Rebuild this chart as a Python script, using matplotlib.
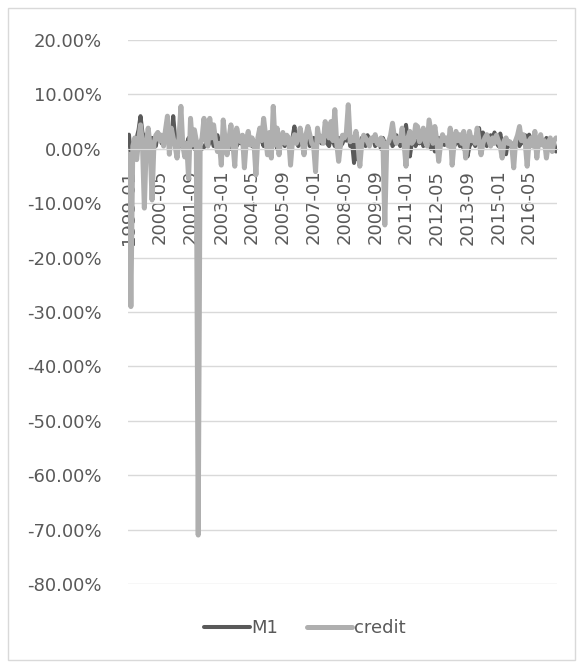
import numpy as np, pandas as pd, matplotlib; matplotlib.use("Agg"); import matplotlib.pyplot as plt
from matplotlib.ticker import FuncFormatter
from matplotlib.patches import Rectangle

# monthly growth, %, 1999-01 .. 2017-07
m1 = [2.6,-1.4,1.0,0.5,2.0,3.5,6.0,3.0,2.0,1.5,2.5,1.0,
      2.0,1.5,0.5,3.0,2.5,1.0,2.0,3.0,1.5,2.0,1.0,6.0,
      2.0,1.0,0.5,1.5,0.0,1.0,0.8,2.0,0.5,1.0,0.0,1.5,
      1.0,0.5,0.0,0.3,1.0,0.5,1.2,2.0,0.5,1.5,2.5,1.0,
      1.5,0.5,2.0,1.0,1.5,0.0,1.0,2.0,0.5,1.5,1.0,2.5,
      0.5,1.5,1.0,2.0,0.5,1.5,0.5,1.0,2.0,1.5,0.5,3.0,
      1.5,0.5,2.0,1.0,3.0,0.0,1.5,2.0,1.0,0.5,2.5,1.0,
      0.5,2.0,4.1,1.5,0.5,1.0,2.5,0.5,1.5,2.0,0.5,1.5,
      2.0,0.5,1.5,2.5,1.0,2.0,4.4,1.0,0.5,2.0,1.5,0.5,
      1.5,2.0,0.5,1.0,2.0,1.5,3.0,0.5,1.0,-2.6,1.0,-2.0,
      0.5,2.0,1.5,0.5,2.5,1.0,1.5,2.0,0.5,1.0,1.5,0.0,
      2.0,1.0,0.5,1.5,2.0,0.5,1.0,2.5,1.5,0.5,1.0,2.0,
      4.4,1.5,-1.4,1.0,2.0,0.5,1.5,1.0,2.0,0.5,1.5,2.5,
      1.0,0.0,1.5,-0.5,1.0,2.0,0.5,1.5,0.7,1.0,2.0,0.5,
      1.5,0.5,1.0,2.0,0.5,1.0,0.0,1.5,-1.4,0.5,1.0,2.0,
      0.5,1.5,3.8,1.0,3.0,2.0,0.5,1.5,2.5,1.0,3.0,1.5,
      0.5,2.8,1.0,0.5,-1.0,1.5,0.5,1.0,-0.5,1.5,2.0,0.5,
      1.5,1.0,2.5,0.5,2.6,1.5,0.5,1.0,2.0,0.5,1.5,1.0,
      0.5,2.0,1.0,0.5,1.5,1.0,-0.5]
credit = [-1.0,-29.0,0.5,2.0,-2.0,1.5,4.4,1.0,-10.9,1.0,3.8,0.5,
          -9.4,1.0,2.5,3.0,1.5,2.5,0.5,3.5,6.0,-1.0,3.8,2.0,
          0.5,-1.7,2.0,7.8,0.7,-1.5,1.0,-5.5,5.6,0.7,3.5,1.5,
          -71.0,0.7,2.0,5.6,1.5,0.5,5.6,2.0,4.4,1.5,-0.5,1.0,
          -3.0,5.3,1.5,-1.1,2.0,4.4,1.0,-3.2,3.8,2.0,1.3,2.5,
          -3.5,1.5,3.2,0.7,2.0,1.0,-4.8,2.0,3.8,1.5,5.6,2.5,
          -1.1,3.0,-1.7,7.8,0.7,3.8,-1.1,2.0,3.0,1.0,2.5,2.0,
          -3.0,1.5,2.6,1.0,2.0,3.8,1.5,-1.1,2.5,4.1,2.6,1.0,
          0.5,-4.2,3.8,1.5,2.0,1.0,5.0,3.2,2.0,5.0,1.5,7.2,
          1.0,-2.3,1.0,2.5,2.0,3.0,8.1,1.3,2.0,1.5,3.2,1.0,
          -3.2,1.0,2.5,2.0,1.3,0.5,2.0,1.5,2.6,1.0,0.7,2.0,
          1.5,-14.0,1.0,1.3,2.5,4.7,2.0,1.0,2.0,1.5,3.8,1.0,
          -3.2,2.0,3.2,1.0,1.5,4.4,4.1,1.3,2.0,3.8,1.3,0.5,
          5.3,3.2,1.0,4.1,1.5,-2.3,1.0,2.6,1.5,2.0,0.5,3.8,
          -3.0,1.0,3.2,1.5,2.6,1.0,3.2,-1.7,1.0,3.2,1.5,2.0,
          1.0,3.8,1.5,-1.1,1.0,2.0,2.6,1.5,0.5,2.0,1.0,2.5,
          1.5,0.5,-1.7,1.5,2.0,1.0,1.3,0.5,-3.5,1.5,2.5,4.1,
          1.5,2.6,1.0,-3.2,1.5,2.0,0.5,3.2,-1.7,1.5,2.6,0.7,
          1.5,-1.7,1.0,2.0,-0.5,1.5,2.0]
months = pd.period_range("1999-01", periods=len(m1), freq="M").strftime("%Y-%m").tolist()
tick_every = 16

fig = plt.figure(figsize=(5.83, 6.68), dpi=100)
fig.patches.append(Rectangle((8/583, 8/668), 567/583, 652/668, transform=fig.transFigure,
                             fill=False, edgecolor="#d9d9d9", lw=1))
ax = fig.add_axes([128/583, 1-584/668, 429/583, 544/668])
ax.spines["bottom"].set_position(("data", 0)); ax.spines["bottom"].set_color("#d9d9d9")
for s in ["top", "right", "left"]: ax.spines[s].set_visible(False)
x = np.arange(len(m1))
ax.plot(x, np.array(m1)/100, color="#595959", lw=2.9, solid_joinstyle="round", solid_capstyle="round", label="M1")
ax.plot(x, np.array(credit)/100, color="#afafaf", lw=3.6, solid_joinstyle="round", solid_capstyle="round", label="credit")
ax.set_xlim(-0.5, len(m1)-0.5); ax.set_ylim(-0.8, 0.2)
ax.set_yticks(np.arange(-0.8, 0.21, 0.1))
ax.yaxis.set_major_formatter(FuncFormatter(lambda v, p: f"{round(v*100, 2)+0:.2f}%"))
ax.set_xticks(x[::tick_every]); ax.set_xticklabels(months[::tick_every])
ax.grid(axis="y", color="#d9d9d9", lw=1); ax.set_axisbelow(True)
ax.tick_params(axis="both", length=0, labelsize=13, labelcolor="#595959")
ax.tick_params(axis="x", pad=15, labelrotation=90); ax.tick_params(axis="y", pad=19)
fig.legend(loc="center", bbox_to_anchor=(305/583, 1-628/668), ncol=2, frameon=False,
           fontsize=13, labelcolor="#595959", handlelength=2.5, handletextpad=0.1, columnspacing=1.6)
plt.savefig("out.png", dpi=100)
